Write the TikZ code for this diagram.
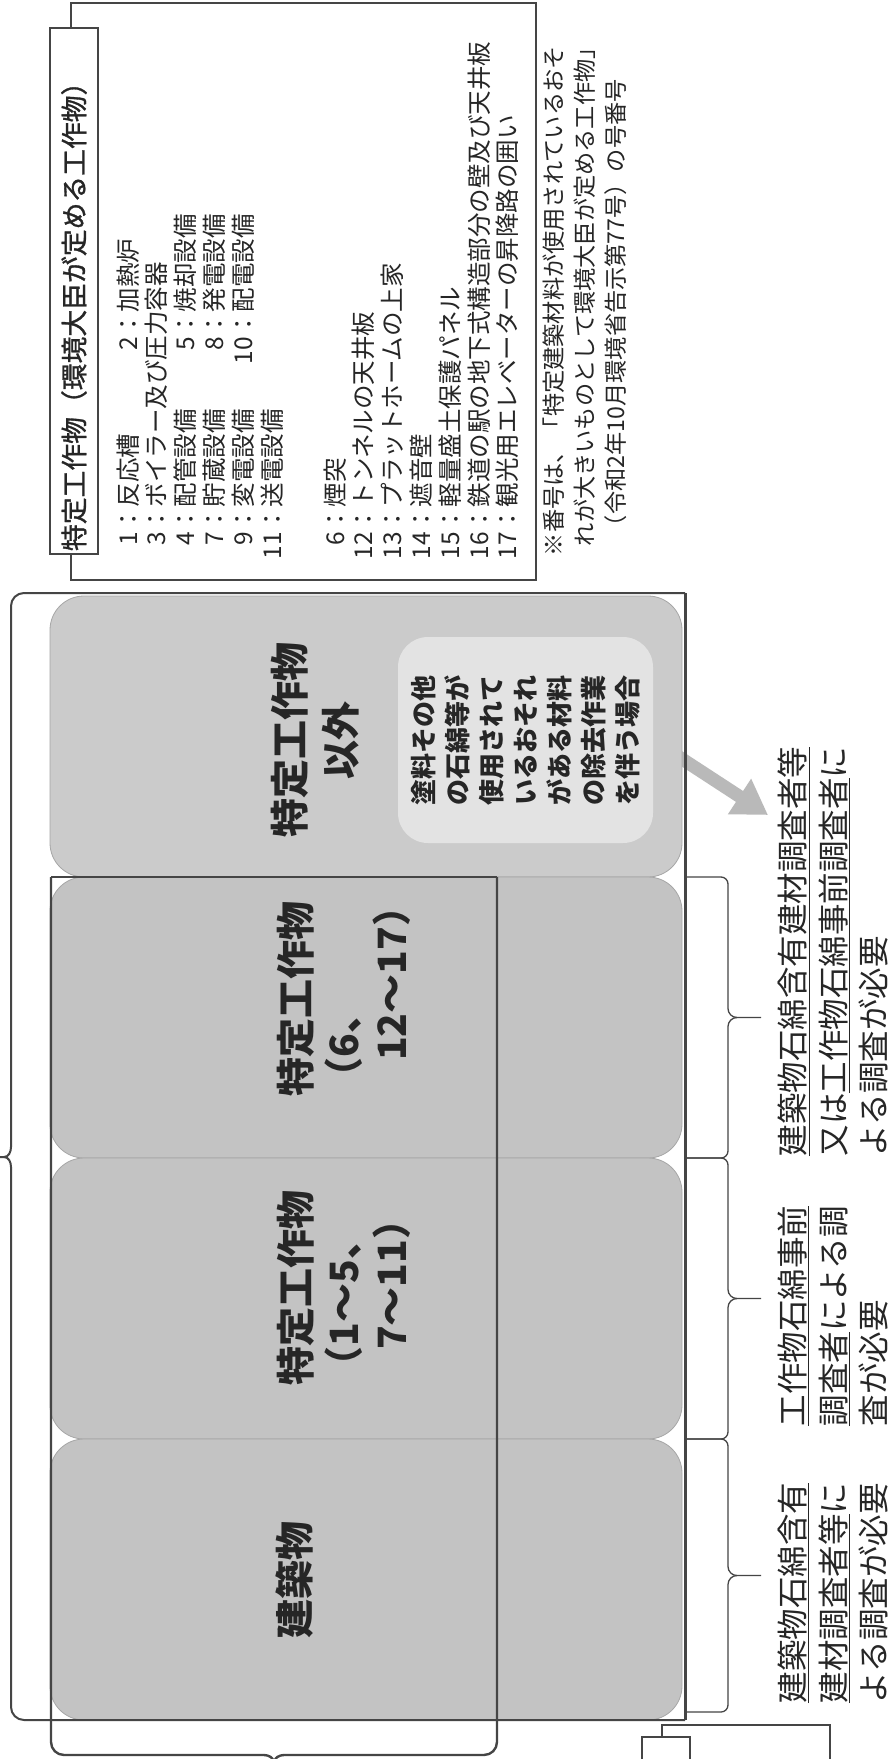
\documentclass[tikz,border=0pt]{standalone}
\usepackage{fontspec}
\setmainfont{Noto Sans CJK JP}
\usetikzlibrary{positioning,arrows.meta,backgrounds}
\definecolor{boxlight}{HTML}{CBCBCB}
\definecolor{boxgray}{HTML}{C3C3C3}
\definecolor{innerfill}{HTML}{E3E3E3}
\definecolor{arrowgray}{HTML}{B9B9B9}
\definecolor{lineink}{HTML}{454545}
\definecolor{txtink}{HTML}{262626}
\newcommand{\inum}[1]{\makebox[1.15em][r]{#1}：}
\newcommand{\sidebrace}[2]{%
  \pgfmathsetmacro{\ym}{(#1+#2)/2}
  \draw[braceline] (686,#1) -- (721,#1) to[out=0,in=90] (728,#1+7) -- (728,\ym-9) to[out=-90,in=180] (737,\ym) -- (761,\ym);
  \draw[braceline] (686,#2) -- (721,#2) to[out=0,in=-90] (728,#2-7) -- (728,\ym+9) to[out=90,in=180] (737,\ym);
}
\begin{document}
\begin{tikzpicture}[x=1pt,y=-1pt]
  \tikzstyle{every node}=[inner sep=0pt, outer sep=0pt, text=txtink]
  \tikzstyle{listtext}=[rotate=90, anchor=north west, align=left, font=\fontsize{24.5}{28.8}\selectfont]
  \tikzstyle{notetext}=[rotate=90, anchor=north west, align=left, font=\fontsize{23.2}{31}\selectfont]
  \tikzstyle{tabbox}=[draw=lineink, line width=2.2pt, rotate=90, minimum width=526pt, minimum height=48pt, text width=520pt, inner xsep=3pt, align=left, font=\fontsize{26.8}{30}\selectfont\addfontfeatures{FakeBold=1.2}]
  \tikzstyle{kindbox}=[draw=gray!70, line width=0.8pt, rounded corners=34pt, minimum width=632pt, minimum height=281pt, fill=boxgray]
  \tikzstyle{kindlabel}=[rotate=90, align=left, font=\fontsize{39}{48}\selectfont\bfseries]
  \tikzstyle{innerbox}=[rotate=90, fill=innerfill, rounded corners=30pt, minimum width=206pt, minimum height=255pt, align=left, font=\fontsize{26}{34}\selectfont\bfseries]
  \tikzstyle{needtext}=[rotate=90, anchor=north west, align=left, font=\fontsize{31.5}{40.5}\selectfont]
  \tikzstyle{frameline}=[draw=lineink, line width=2pt]
  \tikzstyle{braceline}=[draw=lineink, line width=1.3pt]
  \tikzstyle{bigarrow}=[draw=arrowgray, line width=13pt, -{Triangle[length=34pt,width=40pt]}]

  \useasboundingbox (0,0) rectangle (891,1759);

  % list of specified structures
  \draw[frameline, line width=1.4pt] (71,28) -- (71,3) -- (536,3) -- (536,580) -- (71,580) -- (71,554);
  \node[tabbox] (tab) at (74,291) {特定工作物（環境大臣が定める工作物）};
  \node[listtext] (list1) at (116.5,560) {%
    \makebox[195pt][l]{\inum{1}反応槽}\inum{2}加熱炉\\
    \inum{3}ボイラー及び圧力容器\\
    \makebox[195pt][l]{\inum{4}配管設備}\inum{5}焼却設備\\
    \makebox[195pt][l]{\inum{7}貯蔵設備}\inum{8}発電設備\\
    \makebox[195pt][l]{\inum{9}変電設備}\inum{10}配電設備\\
    \inum{11}送電設備};
  \node[listtext] (list2) at (323.5,560) {%
    \inum{6}煙突\\
    \inum{12}トンネルの天井板\\
    \inum{13}プラットホームの上家\\
    \inum{14}遮音壁\\
    \inum{15}軽量盛土保護パネル\\
    \inum{16}鉄道の駅の地下式構造部分の壁及び天井板\\
    \inum{17}観光用エレベーターの昇降路の囲い};
  \node[notetext] (note) at (543,556) {%
    ※番号は、「特定建築材料が使用されているおそ\\
    \hspace*{10pt}れが大きいものとして環境大臣が定める工作物」\\
    \hspace*{18pt}（令和2年10月環境省告示第77号）の号番号};

  % four kinds
  \node[kindbox, fill=boxlight] (other) at (366,736.5) {};
  \node[kindbox, below=0pt of other] (spec2) {};
  \node[kindbox, below=0pt of spec2] (spec1) {};
  \node[kindbox, below=0pt of spec1] (bldg) {};

  \node[kindlabel, align=center, font=\fontsize{39}{51}\selectfont\bfseries] (otherlbl) at (315.5,740) {特定工作物\\以外};
  \node[kindlabel, anchor=north west] (spec2lbl) at (276.7,1096) {特定工作物\\（6、\\\hspace*{0.9em}12～17）};
  \node[kindlabel, anchor=north west] (spec1lbl) at (276.7,1385) {特定工作物\\（1～5、\\\hspace*{0.9em}7～11）};
  \node[kindlabel] (bldglbl) at (295,1580) {建築物};

  \node[innerbox] (paint) at (525.5,740) {塗料その他\\の石綿等が\\使用されて\\いるおそれ\\がある材料\\の除去作業\\を伴う場合};

  % outer frame with brace on the left
  \draw[frameline] (685,593) -- (24,593) to[out=180,in=90] (11,606) -- (11,1147) to[out=-90,in=0] (4,1157) -- (-2,1157);
  \draw[frameline] (4,1157) to[out=0,in=90] (11,1167) -- (11,1707) to[out=-90,in=180] (24,1720) -- (685,1720);
  \draw[frameline, line width=3pt] (685,593) -- (685,1720);

  % buildings + specified structures, brace at the bottom
  \draw[frameline, line width=2.6pt] (51,877) -- (497,877);
  \draw[frameline, line width=2.4pt] (51,877) -- (51,1742) to[out=-90,in=180] (64,1755) -- (264,1755) to[out=0,in=90] (274,1763) -- (274,1775);
  \draw[frameline, line width=2.4pt] (497,877) -- (497,1742) to[out=-90,in=0] (484,1755) -- (284,1755) to[out=180,in=90] (274,1763);

  \sidebrace{877}{1158}
  \sidebrace{1158}{1439}
  \sidebrace{1439}{1712}

  \node[needtext] (needB) at (778,1156) {\underline{建築物石綿含有建材調査者等}\\又は\underline{工作物石綿事前調査者}に\\よる調査が必要};
  \node[needtext] (needC) at (778,1426) {\underline{工作物石綿事前}\\\underline{調査者}による調\\査が必要};
  \node[needtext] (needD) at (778,1703) {\underline{建築物石綿含有}\\\underline{建材調査者等}に\\よる調査が必要};

  % next panel, cut off
  \draw[frameline, line width=1.4pt] (662,1737) -- (662,1725) -- (830,1725) -- (830,1775);
  \node[draw=lineink, line width=1.6pt, minimum width=48pt, minimum height=40pt, anchor=north west] (nexttab) at (642,1737) {};

  \coordinate (arrowtip) at (768,815);
  \begin{scope}[on background layer]
    \fill[white] (0,0) rectangle (891,1759);
    \draw[bigarrow] (paint.south) -- (arrowtip);
  \end{scope}
\end{tikzpicture}
\end{document}
